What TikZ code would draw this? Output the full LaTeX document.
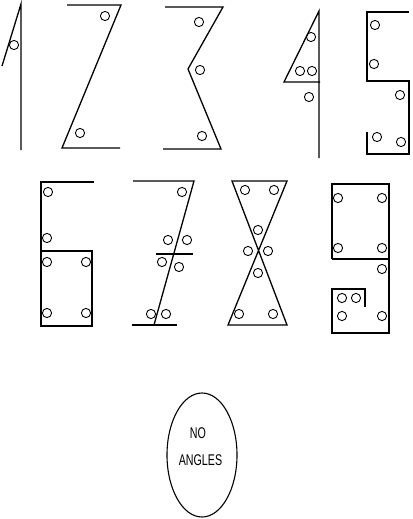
\documentclass[tikz,border=0pt]{standalone}
\usepackage{fontspec}
\setmainfont{Liberation Sans}
\usepackage{graphicx}
\begin{document}
\begin{tikzpicture}[x=1pt,y=-1pt,
  stroke/.style={line width=1.3pt,line join=miter},
  hole/.style={line width=0.9pt},
  lbl/.style={font=\fontsize{15.5}{15.5}\selectfont,inner sep=0pt}]
\useasboundingbox (0,0) rectangle (412,519);
\newcommand{\hl}[2]{\draw[hole] (#1,#2) circle (4.6);}
% 1
\draw[stroke] (2,66) -- (21,4) -- (21,150);
\hl{14}{45}
% 2
\draw[stroke] (67,5) -- (121,5) -- (62,148) -- (120,148);
\hl{105}{16}\hl{80}{133}
% 3
\draw[stroke] (165,7) -- (223,7) -- (188,69) -- (221,149) -- (163,149);
\hl{199}{22}\hl{200}{70}\hl{202}{136}
% 4
\draw[stroke] (319,158) -- (319,11) -- (284,82) -- (320,82);
\hl{311}{37}\hl{300}{71}\hl{312}{71}\hl{309}{97}
% 5
\draw[stroke] (409,12) -- (367,12) -- (367,81) -- (409,81) -- (409,154) -- (367,154) -- (367,132);
\hl{375}{25}\hl{374}{64}\hl{400}{95}\hl{377}{137}\hl{401}{142}
% 6
\draw[stroke] (94,182) -- (41,182) -- (41,326) -- (92,326) -- (92,251) -- (41,251);
\hl{48}{192}\hl{47}{238}\hl{47}{262}\hl{86}{262}\hl{47}{313}\hl{86}{313}
% 7
\draw[stroke] (133,181) -- (194,181) -- (154,325);
\draw[stroke] (132,325) -- (177,325);
\draw[stroke] (156,254) -- (193,254);
\hl{182}{192}\hl{168}{240}\hl{187}{240}\hl{162}{262}\hl{179}{267}\hl{151}{314}\hl{166}{314}
% 8
\draw[stroke] (232,181) -- (287,181) -- (228,325) -- (287,325) -- cycle;
\hl{245}{190}\hl{274}{190}\hl{258}{230}\hl{248}{251}\hl{268}{251}\hl{258}{273}\hl{239}{314}\hl{273}{314}
% 9
\draw[stroke] (332,259) -- (332,184) -- (389,184) -- (389,333) -- (332,333) -- (332,289) -- (365,289) -- (365,307);
\draw[stroke] (332,259) -- (389,259);
\hl{338}{198}\hl{382}{198}\hl{338}{248}\hl{382}{248}\hl{382}{269}\hl{342}{298}\hl{356}{298}\hl{342}{316}\hl{382}{316}
% ellipse
\draw[line width=1.1pt] (202,455) ellipse [x radius=35, y radius=62];
\node[lbl] (no) at (198,433) {\scalebox{0.69}[1]{NO}};
\node[lbl] (ang) at (200.5,460.5) {\scalebox{0.69}[1]{ANGLES}};
\end{tikzpicture}
\end{document}
